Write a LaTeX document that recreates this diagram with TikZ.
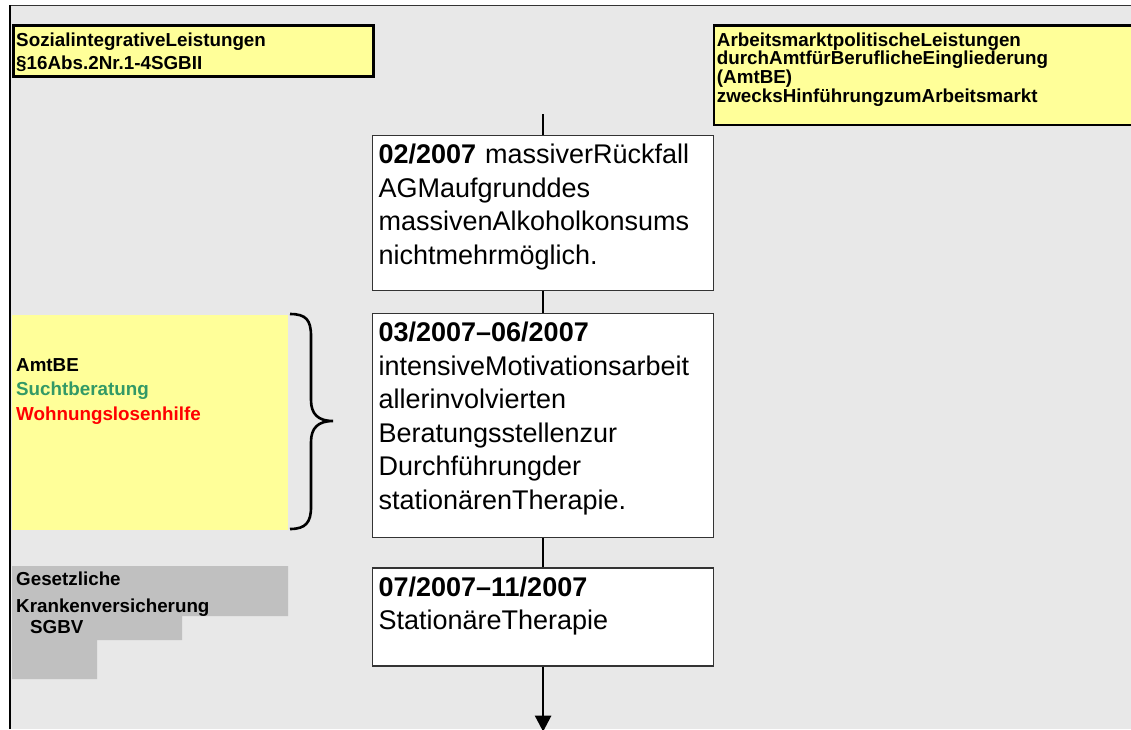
\documentclass[tikz,border=0pt]{standalone}
\usepackage{fontspec}
\setmainfont{Liberation Sans}
\usetikzlibrary{arrows.meta, positioning}

\definecolor{bgGray}{HTML}{E8E8E8}
\definecolor{noteYellow}{HTML}{FFFF99}
\definecolor{kvGray}{HTML}{C0C0C0}
\definecolor{seaGreen}{HTML}{339966}
\setlength{\lineskiplimit}{-100pt}

\begin{document}
\begin{tikzpicture}[x=1pt, y=-1pt,
    notebox/.style={draw=black, line width=2.5pt, fill=noteYellow, anchor=north west,
        inner xsep=3pt, inner ysep=0pt, align=left,
        font=\bfseries\fontsize{18.8}{23}\selectfont},
    eventbox/.style={draw=black!80, line width=1.2pt, fill=white, text width=329pt,
        inner xsep=6pt, inner ysep=0pt, align=left,
        font=\fontsize{27}{33.5}\selectfont},
    conn/.style={line width=2.6pt, black}]
    \useasboundingbox (0,0) rectangle (1131,729);

    % Background sheet
    \fill[bgGray] (10,5) rectangle (1131,729);
    \draw[line width=1.2pt, black!80] (10,5.5) -- (1131,5.5);
    \draw[line width=2.5pt] (10,5) -- (10,729);

    % Headers
    \node[notebox, text width=354pt] (sozial) at (12,24)
        {\rule{0pt}{21pt}SozialintegrativeLeistungen\\
         §16Abs.2Nr.1-4SGBII\rule[-7pt]{0pt}{7pt}};
    \node[notebox, text width=440pt, font=\bfseries\fontsize{18.8}{18.7}\selectfont]
        (amtbehead) at (712.7,24)
        {\rule{0pt}{21pt}ArbeitsmarktpolitischeLeistungen\\
         durchAmtfürBeruflicheEingliederung\\
         (AmtBE)\\
         zwecksHinführungzumArbeitsmarkt\rule[-22.5pt]{0pt}{22.5pt}};

    % Timeline
    \node[eventbox, anchor=north west] (feb) at (372,135)
        {\rule{0pt}{28pt}\textbf{02/2007} massiverRückfall\\
         AGMaufgrunddes\\
         massivenAlkoholkonsums\\
         nichtmehrmöglich.\rule[-26.5pt]{0pt}{26.5pt}};
    \node[eventbox, below=22pt of feb] (motiv)
        {\rule{0pt}{28pt}\textbf{03/2007–06/2007}\\
         intensiveMotivationsarbeit\\
         allerinvolvierten\\
         Beratungsstellenzur\\
         Durchführungder\\
         stationärenTherapie.\rule[-28.5pt]{0pt}{28.5pt}};
    \node[eventbox, below=29pt of motiv] (thera)
        {\rule{0pt}{28pt}\textbf{07/2007–11/2007}\\
         StationäreTherapie\rule[-36.5pt]{0pt}{36.5pt}};

    \coordinate (topend) at ([yshift=21pt]feb.north);
    \coordinate (arrowend) at ([yshift=-65pt]thera.south);
    \draw[conn] (topend) -- (feb.north);
    \draw[conn] (feb.south) -- (motiv.north);
    \draw[conn] (motiv.south) -- (thera.north);
    \draw[conn, -{Triangle[width=16pt, length=16pt]}] (thera.south) -- (arrowend);

    % Involved offices
    \node[fill=noteYellow, anchor=north west, inner xsep=4pt, inner ysep=0pt,
        text width=268pt, align=left,
        font=\bfseries\fontsize{18.8}{24.5}\selectfont] (offices) at (12,315)
        {\rule{0pt}{56pt}AmtBE\\
         \textcolor{seaGreen}{Suchtberatung}\\
         \textcolor{red}{Wohnungslosenhilfe}\rule[-110pt]{0pt}{110pt}};
    \draw[line width=2.6pt] (290,314) .. controls (306,314) and (311,320) .. (311,336)
        -- (311,400) .. controls (311,414) and (318,421) .. (333,421)
        .. controls (318,421) and (311,428) .. (311,442)
        -- (311,507) .. controls (311,522) and (306,529) .. (290,529);

    % Health insurance
    \fill[kvGray] (12,566) -- (288,566) -- (288,616) -- (182,616) -- (182,640)
        -- (97,640) -- (97,679) -- (12,679) -- cycle;
    \node[anchor=north west, inner xsep=4pt, inner ysep=0pt, text width=270pt, align=left,
        font=\bfseries\fontsize{18.8}{24}\selectfont] (gkv) at (12,566)
        {\rule{0pt}{19pt}Gesetzliche\\[3pt]
         Krankenversicherung\\[-3pt]
         \hspace*{14pt}SGBV};
\end{tikzpicture}
\end{document}
